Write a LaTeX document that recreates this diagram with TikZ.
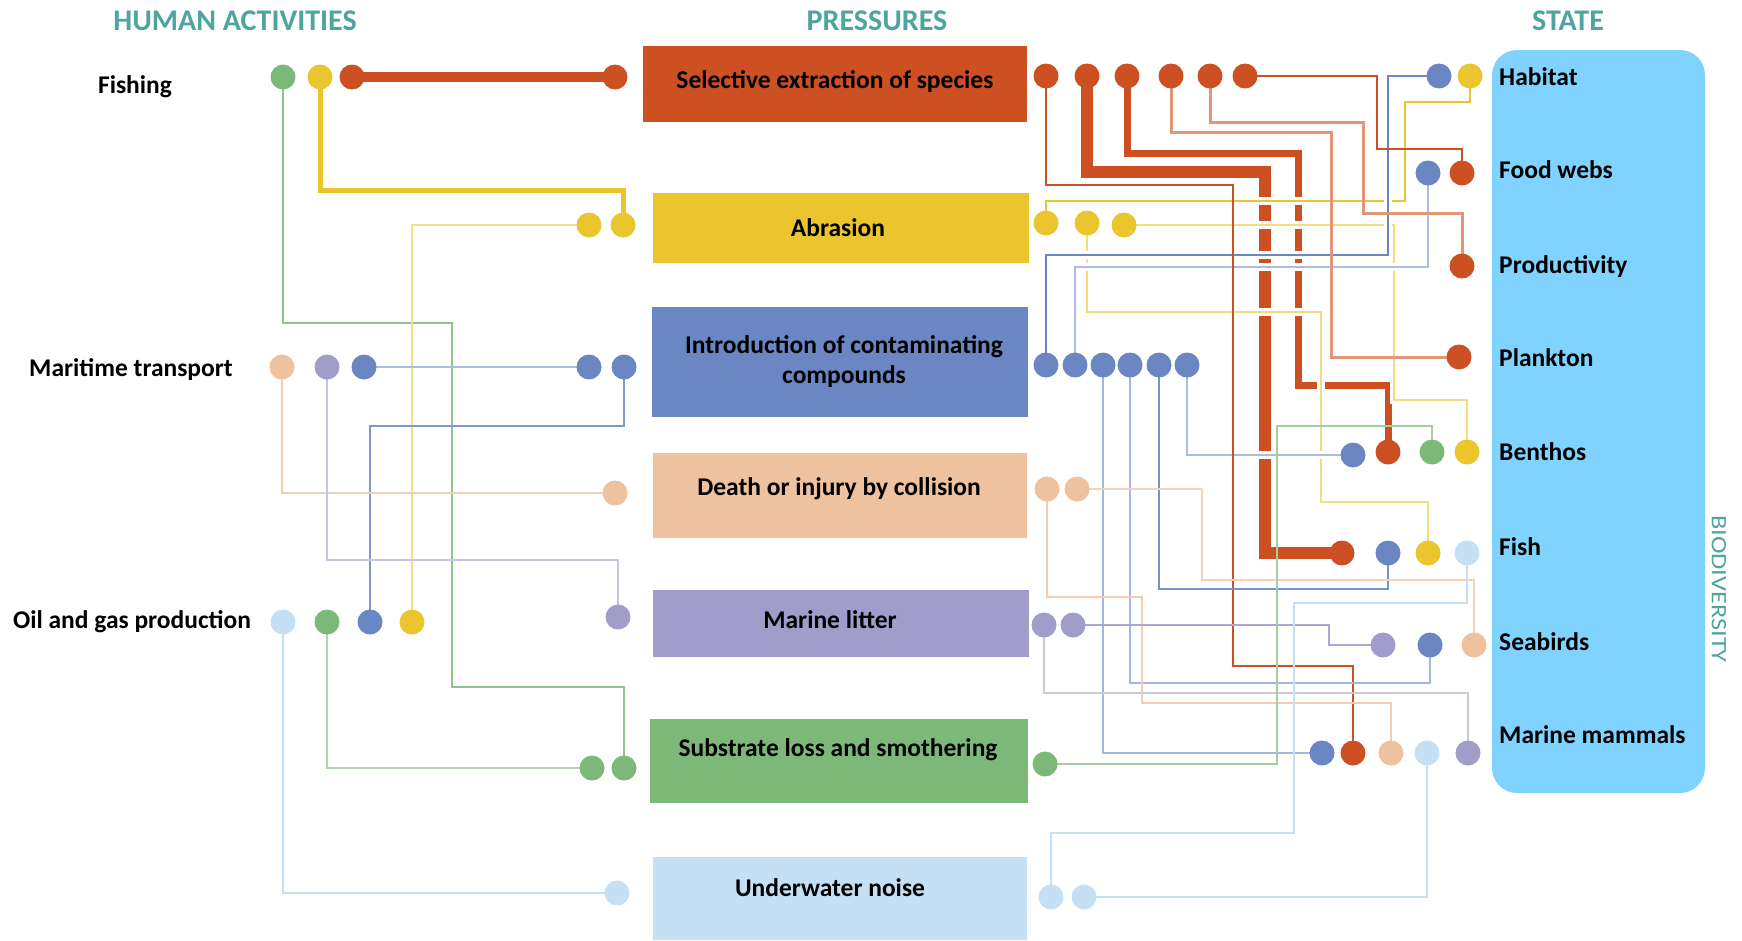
\documentclass[tikz,border=0pt]{standalone}
\usepackage{fontspec}
\setmainfont{Carlito}
\usepackage{graphicx}
\usetikzlibrary{backgrounds}
\definecolor{cRed}{HTML}{CD5022}
\definecolor{cYel}{HTML}{EAC52E}
\definecolor{cBlue}{HTML}{6A86C3}
\definecolor{cPeach}{HTML}{EEC29E}
\definecolor{cLav}{HTML}{A09DCB}
\definecolor{cGreen}{HTML}{7CB978}
\definecolor{cLB}{HTML}{C5E0F4}
\definecolor{cPanel}{HTML}{80D3FE}
\definecolor{cTeal}{HTML}{4DA59E}
\tikzset{
  dot/.style={circle, fill=#1, minimum size=25pt, inner sep=0pt, draw=none},
  pbox/.style={rectangle, fill=#1, inner sep=0pt, draw=none},
  lbl/.style={font=\fontsize{25.5}{30}\selectfont\bfseries, inner sep=0pt},
  hdr/.style={font=\fontsize{30}{32}\selectfont\bfseries, text=cTeal, inner sep=0pt},
  ln/.style={line width=2.5pt},
  halo/.style={preaction={draw=white, line width=8pt}},
}
\begin{document}
\begin{tikzpicture}[x=1pt,y=-1pt]
\useasboundingbox (0,0) rectangle (1742,940);

% headers
\node[hdr, anchor=base] (hHA) at (235,30) {HUMAN ACTIVITIES};
\node[hdr, anchor=base] (hPR) at (877,30) {PRESSURES};
\node[hdr, anchor=base] (hST) at (1568,30) {STATE};

% state panel
\node[rectangle, fill=cPanel, rounded corners=25pt, minimum width=213pt, minimum height=743pt, inner sep=0pt] (panel) at (1598.5,421.5) {};
\node[rotate=-90, text=cTeal, font=\fontsize{22}{22}\selectfont, inner sep=0pt] (bio) at (1719,589) {\scalebox{1.2}[1]{BIODIVERSITY}};

% activity labels
\node[lbl, anchor=base] (tFish) at (135,93) {Fishing};
\node[lbl, anchor=base] (tMar) at (131,376) {Maritime transport};
\node[lbl, anchor=base] (tOil) at (132,628) {Oil and gas production};

% pressure boxes
\node[pbox=cRed, minimum width=384pt, minimum height=76pt] (sel) at (835,84) {};
\node[pbox=cYel, minimum width=376pt, minimum height=70pt] (abr) at (841,228) {};
\node[pbox=cBlue, minimum width=376pt, minimum height=110pt] (intro) at (840,362) {};
\node[pbox=cPeach, minimum width=374pt, minimum height=85pt] (death) at (840,495.5) {};
\node[pbox=cLav, minimum width=376pt, minimum height=67pt] (litter) at (841,623.5) {};
\node[pbox=cGreen, minimum width=378pt, minimum height=84pt] (subst) at (839,761) {};
\node[pbox=cLB, minimum width=374pt, minimum height=83pt] (noise) at (840,898.5) {};

\node[lbl, anchor=base] (tSel) at (835,88) {Selective extraction of species};
\node[lbl, anchor=base] (tAbr) at (838,236) {Abrasion};
\node[lbl, align=center] (tIntro) at (844,362) {Introduction of contaminating\\compounds};
\node[lbl, anchor=base] (tDeath) at (839,495) {Death or injury by collision};
\node[lbl, anchor=base] (tLit) at (830,628) {Marine litter};
\node[lbl, anchor=base] (tSub) at (838,756) {Substrate loss and smothering};
\node[lbl, anchor=base] (tNoise) at (830,896) {Underwater noise};

% state labels
\node[lbl, anchor=base west] (tHab) at (1499,85) {Habitat};
\node[lbl, anchor=base west] (tFW) at (1499,178) {Food webs};
\node[lbl, anchor=base west] (tPro) at (1499,273) {Productivity};
\node[lbl, anchor=base west] (tPla) at (1499,366) {Plankton};
\node[lbl, anchor=base west] (tBen) at (1499,460) {Benthos};
\node[lbl, anchor=base west] (tFi) at (1499,555) {Fish};
\node[lbl, anchor=base west] (tSea) at (1499,650) {Seabirds};
\node[lbl, anchor=base west] (tMM) at (1499,743) {Marine mammals};

% activity dots
\node[dot=cGreen] (fG) at (283,77) {};
\node[dot=cYel] (fY) at (320,77) {};
\node[dot=cRed] (fR) at (352,77) {};
\node[dot=cPeach] (mP) at (282,367) {};
\node[dot=cLav] (mL) at (327,367) {};
\node[dot=cBlue] (mB) at (364,367) {};
\node[dot=cLB] (oLB) at (283,622) {};
\node[dot=cGreen] (oG) at (327,622) {};
\node[dot=cBlue] (oB) at (370,622) {};
\node[dot=cYel] (oY) at (412,622) {};

% pressure left dots
\node[dot=cRed] (sR) at (615,77) {};
\node[dot=cYel] (aY1) at (589,225) {};
\node[dot=cYel] (aY2) at (623,225) {};
\node[dot=cBlue] (iB1) at (589,367) {};
\node[dot=cBlue] (iB2) at (624,367) {};
\node[dot=cPeach] (dP) at (615,493) {};
\node[dot=cLav] (lL) at (618,617) {};
\node[dot=cGreen] (gG1) at (592,768) {};
\node[dot=cGreen] (gG2) at (624,768) {};
\node[dot=cLB] (nLB) at (617,893) {};

% pressure right dots
\node[dot=cRed] (sr1) at (1046,76) {};
\node[dot=cRed] (sr2) at (1087,76) {};
\node[dot=cRed] (sr3) at (1127,76) {};
\node[dot=cRed] (sr4) at (1171,76) {};
\node[dot=cRed] (sr5) at (1210,76) {};
\node[dot=cRed] (sr6) at (1245,76) {};
\node[dot=cYel] (ar1) at (1046,223) {};
\node[dot=cYel] (ar2) at (1087,223) {};
\node[dot=cYel] (ar3) at (1124,225) {};
\node[dot=cBlue] (ir1) at (1046,365) {};
\node[dot=cBlue] (ir2) at (1075,365) {};
\node[dot=cBlue] (ir3) at (1103,365) {};
\node[dot=cBlue] (ir4) at (1130,365) {};
\node[dot=cBlue] (ir5) at (1159,365) {};
\node[dot=cBlue] (ir6) at (1187,365) {};
\node[dot=cPeach] (dr1) at (1047,489) {};
\node[dot=cPeach] (dr2) at (1077,489) {};
\node[dot=cLav] (lr1) at (1044,625) {};
\node[dot=cLav] (lr2) at (1073,625) {};
\node[dot=cGreen] (gr1) at (1045,764) {};
\node[dot=cLB] (nr1) at (1051,897) {};
\node[dot=cLB] (nr2) at (1084,897) {};

% state dots
\node[dot=cBlue] (hB) at (1439,76) {};
\node[dot=cYel] (hY) at (1470,76) {};
\node[dot=cBlue] (fwB) at (1428,173) {};
\node[dot=cRed] (fwR) at (1462,173) {};
\node[dot=cRed] (prR) at (1462,266) {};
\node[dot=cRed] (plR) at (1459,357) {};
\node[dot=cBlue] (bB) at (1353,455) {};
\node[dot=cRed] (bR) at (1388,452) {};
\node[dot=cGreen] (bG) at (1432,452) {};
\node[dot=cYel] (bY) at (1467,452) {};
\node[dot=cRed] (fiR) at (1342,553) {};
\node[dot=cBlue] (fiB) at (1388,553) {};
\node[dot=cYel] (fiY) at (1428,553) {};
\node[dot=cLB] (fiLB) at (1467,553) {};
\node[dot=cLav] (sbL) at (1383,645) {};
\node[dot=cBlue] (sbB) at (1430,645) {};
\node[dot=cPeach] (sbP) at (1474,645) {};
\node[dot=cBlue] (mmB) at (1322,753) {};
\node[dot=cRed] (mmR) at (1353,753) {};
\node[dot=cPeach] (mmP) at (1391,753) {};
\node[dot=cLB] (mmLB) at (1427,753) {};
\node[dot=cLav] (mmL) at (1468,753) {};

\begin{pgfonlayer}{background}
% ---- left side
\draw[cRed, line width=10pt] (fR.center) -- (sR.center);
\draw[cYel, line width=5pt] (fY.center) |- (623,190) -- (aY2.center);
\draw[ln, cGreen!85] (fG.center) |- (452,323) -- (452,687) -| (gG2.center);
\draw[ln, cYel!55] (aY1.center) -| (oY.center);
\draw[ln, cBlue!55] (mB.center) -- (iB1.center);
\draw[ln, cBlue!85] (iB2.center) -- (624,426) -| (oB.center);
\draw[ln, cPeach!80] (mP.center) |- (dP.center);
\draw[ln, cLav!60] (mL.center) -- (327,560) -| (lL.center);
\draw[ln, cGreen!60] (oG.center) |- (gG1.center);
\draw[ln, cLB] (oLB.center) |- (nLB.center);

% ---- right side: thick red first
\draw[cRed, line width=12pt] (sr2.center) -- (1087,172) -- (1265,172) |- (fiR.center);
\draw[cRed, line width=7pt] (sr3.center) -- (1127,153) -- (1298,153) -- (1298,385) -| (bR.center);

% lines bridging over thick red
\draw[ln, cYel, halo] (ar1.center) -- (1046,201) -- (1405,201) -- (1405,102) -| (hY.center);
\draw[ln, cYel!60, halo] (ar2.center) -- (1087,312) -- (1321,312) -- (1321,502) -| (fiY.center);
\draw[ln, cYel!60, halo] (ar3.center) -| (1394,400) -| (bY.center);
\draw[ln, cBlue, halo] (ir1.center) -- (1046,255) -- (1388,255) |- (hB.center);
\draw[ln, cBlue!55, halo] (ir2.center) -- (1075,267) -| (fwB.center);
\draw[ln, cBlue!55, halo] (ir6.center) |- (bB.center);

% other lines
\draw[ln, cRed] (sr1.center) -- (1046,185) -- (1233,185) -- (1233,666) -| (mmR.center);
\draw[cRed!60, line width=3pt] (sr4.center) -- (1171,132) -- (1331,132) |- (plR.center);
\draw[cRed!60, line width=3pt] (sr5.center) -- (1210,122) -- (1363,122) -- (1363,213) -| (prR.center);
\draw[ln, cRed] (sr6.center) -- (1377,76) -- (1377,149) -| (fwR.center);
\draw[ln, cBlue!60] (ir3.center) |- (mmB.center);
\draw[ln, cBlue!60] (ir4.center) -- (1130,683) -| (sbB.center);
\draw[ln, cBlue!90] (ir5.center) -- (1159,589) -| (fiB.center);
\draw[ln, cPeach!80] (dr1.center) -- (1047,597) -- (1142,597) -- (1142,703) -| (mmP.center);
\draw[ln, cPeach!70] (dr2.center) -- (1202,489) -- (1202,580) -| (sbP.center);
\draw[ln, cLav!55] (lr1.center) -- (1044,693) -| (mmL.center);
\draw[ln, cLav!90] (lr2.center) -- (1329,625) |- (sbL.center);
\draw[ln, cGreen!70] (gr1.center) -- (1277,764) -- (1277,426) -| (bG.center);
\draw[ln, cLB] (nr1.center) -- (1051,833) -- (1294,833) -- (1294,603) -| (fiLB.center);
\draw[ln, cLB] (nr2.center) -| (mmLB.center);
\end{pgfonlayer}
\end{tikzpicture}
\end{document}
